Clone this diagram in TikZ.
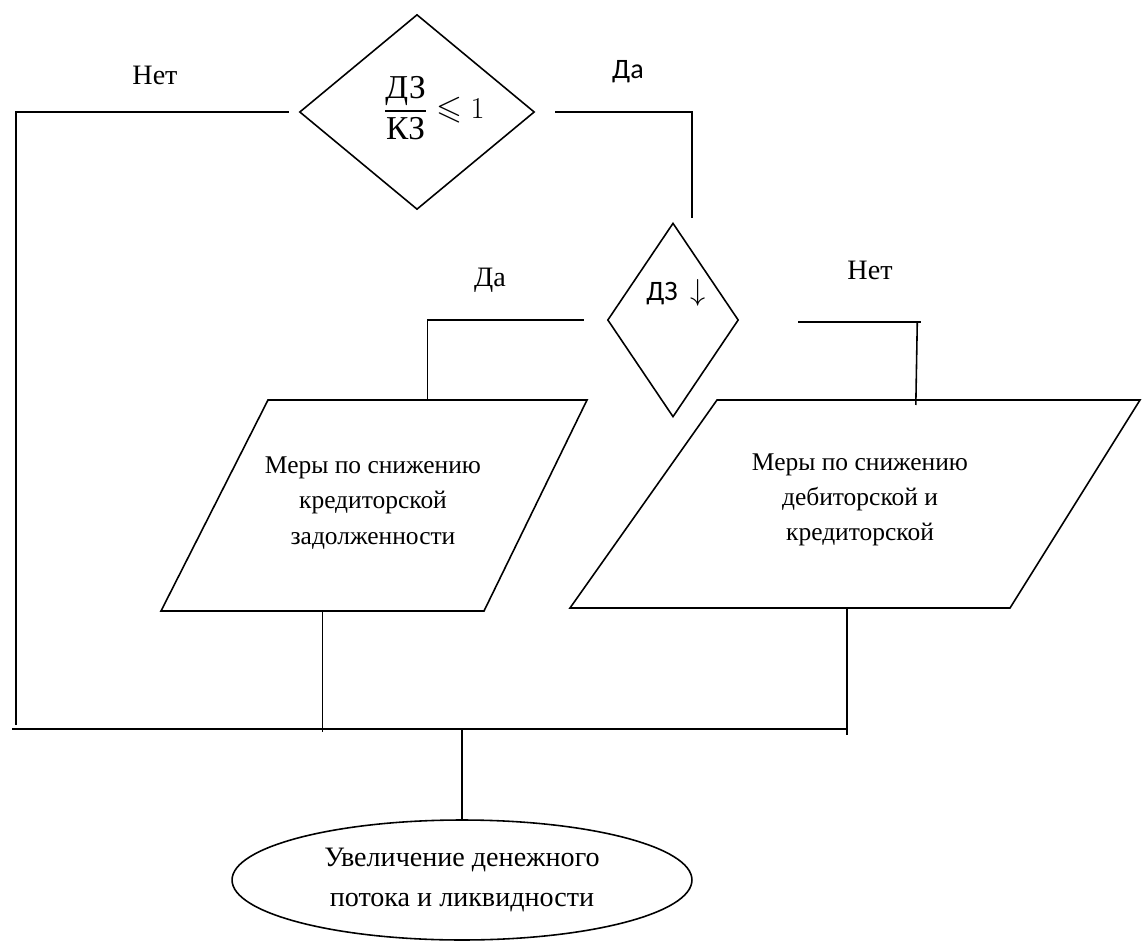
\documentclass[tikz,border=0pt]{standalone}
\usepackage{amsmath,amssymb}
\usepackage{fontspec}
\setmainfont{Liberation Serif}
\newfontfamily\timesf{Liberation Serif}
\newfontfamily\calibri{Carlito}
\usetikzlibrary{shapes.geometric,calc}

\begin{document}
\begin{tikzpicture}[
    x=0.02cm, y=-0.02cm, line width=0.9pt,
    decision/.style={draw, diamond, inner sep=0pt},
    meratext/.style={align=center, font=\timesf\fontsize{14.5}{20}\selectfont},
    outcome/.style={draw, ellipse, inner sep=0pt, align=center, font=\timesf\fontsize{16}{23}\selectfont},
    lbl/.style={font=\timesf\fontsize{16}{19}\selectfont},
    sanslbl/.style={font=\calibri\fontsize{16}{19}\selectfont}
]
    \useasboundingbox (0,0) rectangle (1142,949);

    % Decisions
    \node[decision, minimum width=4.7cm, minimum height=3.9cm] (kz) at (417,112) {};
    \node[font=\timesf\fontsize{19}{22}\selectfont] (kzlbl) at (434,108)
        {$\displaystyle\frac{\text{\timesf ДЗ}}{\text{\timesf КЗ}}\leqslant 1$};
    \node[decision, minimum width=2.62cm, minimum height=3.88cm] (dz) at (673,320) {};
    \node[sanslbl] (dzlbl) at (676,293) {ДЗ \ $\downarrow$};

    % Measures (parallelograms)
    \coordinate (m1tl) at (268,400); \coordinate (m1tr) at (587,400);
    \coordinate (m1br) at (484,611); \coordinate (m1bl) at (161,611);
    \draw (m1tl) -- (m1tr) -- (m1br) -- (m1bl) -- cycle;
    \node[meratext] (mera1) at (373,503) {Меры по снижению\\кредиторской\\задолженности};

    \coordinate (m2tl) at (717,400); \coordinate (m2tr) at (1140,400);
    \coordinate (m2br) at (1010,608); \coordinate (m2bl) at (570,608);
    \draw (m2tl) -- (m2tr) -- (m2br) -- (m2bl) -- cycle;
    \node[meratext] (mera2) at (860,500) {Меры по снижению\\дебиторской и\\кредиторской};

    % Result
    \node[outcome, minimum width=9.2cm, minimum height=2.4cm] (oval) at (462,880)
        {Увеличение денежного\\потока и ликвидности};

    % Branch labels
    \node[lbl] (net1) at (155,75) {Нет};
    \node[sanslbl] (da1) at (628,72) {Да};
    \node[lbl] (da2) at (490,280) {Да};
    \node[lbl] (net2) at (870,270) {Нет};

    % Connectors
    \coordinate (busl) at (12,729);
    \coordinate (busr) at (848,729);
    \draw ($(kz.west)+(-10,0)$) -- (16,112) -- (16,725);
    \draw (busl) -- (busr);
    \draw ($(kz.east)+(20,0)$) -| ($(dz.north)+(19,-4)$);
    \draw ($(dz.west)+(-23,0)$) -| ($(m1tl)!0.5!(m1tr)$);
    \draw ($(dz.east)+(59,2)$) -- ++(123,0);
    \draw ($(dz.east)+(178,2)$) -- ($(m2tl)!0.47!(m2tr)+(0,5)$);
    \draw ($(m1bl)!0.5!(m1br)$) -- ($(m1bl)!0.5!(m1br)+(0,121)$);
    \draw ($(m2bl)!0.63!(m2br)$) -- ($(m2bl)!0.63!(m2br)+(0,127)$);
    \draw (oval.north |- busl) -- (oval.north);
\end{tikzpicture}
\end{document}
